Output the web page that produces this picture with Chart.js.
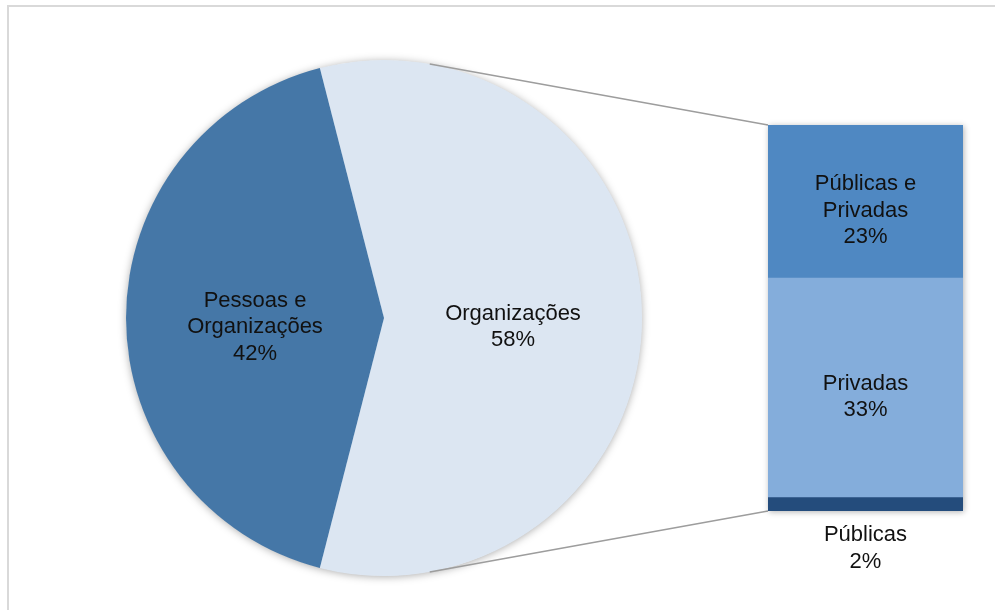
<!DOCTYPE html>
<html>
<head>
<meta charset="utf-8">
<script src="https://cdn.jsdelivr.net/npm/chart.js@4.4.1/dist/chart.umd.min.js"></script>
<style>
  html, body { margin: 0; padding: 0; background: #fff; }
  #wrap { position: relative; width: 995px; height: 610px; overflow: hidden; }
  #frame { position: absolute; left: 7px; top: 5px; width: 1000px; height: 620px;
           border-left: 2px solid #d9d9d9; border-top: 2px solid #d9d9d9; }
  canvas { position: absolute; left: 0; top: 0; }
</style>
</head>
<body>
<div id="wrap">
  <div id="frame"></div>
  <canvas id="pie" width="995" height="610"></canvas>
  <canvas id="bar" width="995" height="610"></canvas>
</div>
<script>
// pie: main split
const pieLabels = [['Organizações'], ['Pessoas e', 'Organizações']];
const pieValues = [58, 42];
const pieColors = ['#dce6f2', '#4577a7'];

// bar: breakdown of "Organizações", bottom to top
const barLabels = [['Públicas'], ['Privadas'], ['Públicas e', 'Privadas']];
const barValues = [2, 33, 23];
const barColors = ['#244c7c', '#84addb', '#4f88c2'];

const FONT = '22px "Liberation Sans", Arial, sans-serif';
const LINE_H = 26.5;
const TEXT_DY = 9;

function drawLines(ctx, lines, x, y) {
  ctx.save();
  ctx.font = FONT;
  ctx.fillStyle = '#111';
  ctx.textAlign = 'center';
  ctx.textBaseline = 'middle';
  const top = y - (lines.length - 1) * LINE_H / 2;
  lines.forEach((t, i) => ctx.fillText(t, x, top + i * LINE_H + TEXT_DY));
  ctx.restore();
}

const pieTotal = pieValues.reduce((a, b) => a + b, 0);
// turn the pie so the first slice is centred on the right, facing the bar
const pieRotation = 90 - (pieValues[0] / pieTotal * 360) / 2;

const pieDecor = {
  id: 'pieDecor',
  beforeDatasetsDraw(chart) {
    const arc = chart.getDatasetMeta(0).data[0];
    const ctx = chart.ctx;
    ctx.save();
    ctx.shadowColor = 'rgba(0,0,0,0.35)';
    ctx.shadowBlur = 8;
    ctx.shadowOffsetY = 1;
    ctx.fillStyle = '#fff';
    ctx.beginPath();
    ctx.arc(arc.x, arc.y, arc.outerRadius - 0.5, 0, Math.PI * 2);
    ctx.fill();
    ctx.restore();
  },
  afterDatasetsDraw(chart) {
    const meta = chart.getDatasetMeta(0);
    meta.data.forEach((arc, i) => {
      const p = arc.tooltipPosition();
      drawLines(chart.ctx, pieLabels[i].concat([pieValues[i] + '%']), p.x, p.y);
    });
  }
};

const pieChart = new Chart(document.getElementById('pie'), {
  type: 'pie',
  data: {
    labels: pieLabels,
    datasets: [{ data: pieValues, backgroundColor: pieColors, borderWidth: 0 }]
  },
  options: {
    responsive: false,
    animation: false,
    devicePixelRatio: 1,
    rotation: pieRotation,
    layout: { padding: { left: 126, right: 353, top: 60, bottom: 34 } },
    plugins: { legend: { display: false }, tooltip: { enabled: false } }
  },
  plugins: [pieDecor]
});

// tangent point on the pie circle seen from (px, py); side = -1 upper, +1 lower
function tangentPoint(cx, cy, r, px, py, side) {
  const dx = px - cx, dy = py - cy;
  const d = Math.sqrt(dx * dx + dy * dy);
  const phi = Math.atan2(dy, dx);
  const a = phi + side * Math.acos(r / d);
  return { x: cx + r * Math.cos(a), y: cy + r * Math.sin(a) };
}

const barDecor = {
  id: 'barDecor',
  beforeDatasetsDraw(chart) {
    const ctx = chart.ctx;
    const n = barValues.length;
    const bottom = chart.getDatasetMeta(0).data[0];
    const top = chart.getDatasetMeta(n - 1).data[0];
    const left = top.x - top.width / 2;
    const arc = pieChart.getDatasetMeta(0).data[0];

    // connector lines from the pie to the bar corners
    const p1 = tangentPoint(arc.x, arc.y, arc.outerRadius, left, top.y, -1);
    const p2 = tangentPoint(arc.x, arc.y, arc.outerRadius, left, bottom.base, 1);
    ctx.save();
    ctx.strokeStyle = '#9d9d9d';
    ctx.lineWidth = 1.5;
    ctx.beginPath();
    ctx.moveTo(p1.x, p1.y); ctx.lineTo(left, top.y);
    ctx.moveTo(p2.x, p2.y); ctx.lineTo(left, bottom.base);
    ctx.stroke();

    // soft shadow behind the bar
    ctx.shadowColor = 'rgba(0,0,0,0.3)';
    ctx.shadowBlur = 6;
    ctx.shadowOffsetX = 1;
    ctx.shadowOffsetY = 1;
    ctx.fillStyle = '#fff';
    ctx.fillRect(left, top.y, top.width, bottom.base - top.y);
    ctx.restore();
  },
  afterDatasetsDraw(chart) {
    barValues.forEach((v, i) => {
      const el = chart.getDatasetMeta(i).data[0];
      const h = el.base - el.y;
      const lines = barLabels[i].concat([v + '%']);
      if (h < lines.length * LINE_H) {
        // too thin: label sits under the bar
        drawLines(chart.ctx, lines, el.x, el.base + 2 + lines.length * LINE_H / 2);
      } else {
        drawLines(chart.ctx, lines, el.x, (el.y + el.base) / 2);
      }
    });
  }
};

const barTotal = barValues.reduce((a, b) => a + b, 0);

new Chart(document.getElementById('bar'), {
  type: 'bar',
  data: {
    labels: [''],
    datasets: barValues.map((v, i) => ({
      label: barLabels[i].join(' '),
      data: [v],
      backgroundColor: barColors[i],
      borderWidth: 0,
      barPercentage: 1,
      categoryPercentage: 1
    }))
  },
  options: {
    responsive: false,
    animation: false,
    devicePixelRatio: 1,
    layout: { padding: { left: 768, right: 32, top: 125, bottom: 99 } },
    scales: {
      x: { stacked: true, display: false },
      y: { stacked: true, display: false, min: 0, max: barTotal }
    },
    plugins: { legend: { display: false }, tooltip: { enabled: false } }
  },
  plugins: [barDecor]
});
</script>
</body>
</html>
